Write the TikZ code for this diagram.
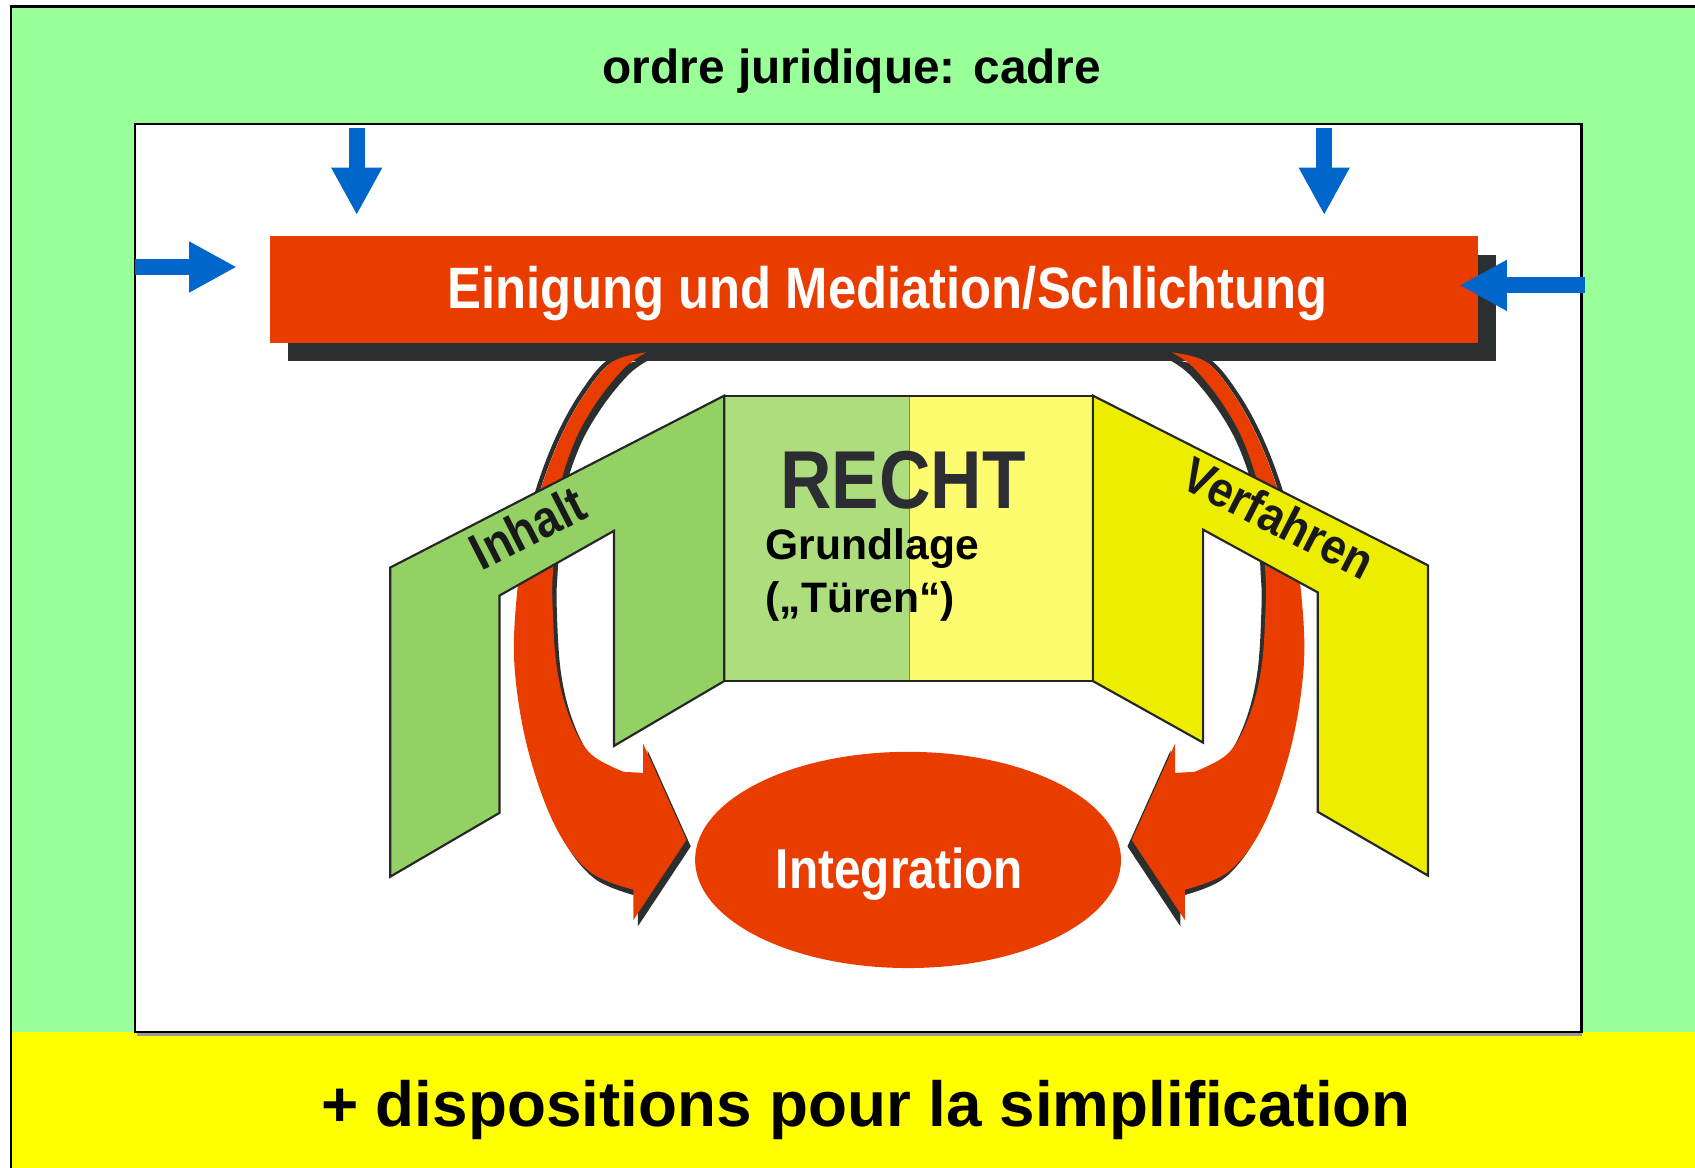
\documentclass[tikz,border=0pt]{standalone}
\usepackage{fontspec}
\usepackage{graphicx}
\setmainfont{Liberation Sans}
\usetikzlibrary{arrows.meta,shapes.geometric}
\definecolor{greenbg}{RGB}{153,255,153}
\definecolor{yellowband}{RGB}{255,255,0}
\definecolor{redc}{RGB}{233,61,0}
\definecolor{shadowc}{RGB}{43,47,47}
\definecolor{bluec}{RGB}{0,102,204}
\definecolor{doorgreen}{RGB}{148,209,100}
\definecolor{panelgreen}{RGB}{174,221,126}
\definecolor{dooryellow}{RGB}{237,237,0}
\definecolor{panelyellow}{RGB}{252,252,110}
\definecolor{rechtc}{RGB}{43,45,51}
\begin{document}
\begin{tikzpicture}[x=0.5pt,y=-0.5pt,
  txt/.style={inner sep=0pt, anchor=base},
  bluearrow/.style={draw=bluec, line width=7.5pt, -{Triangle[width=22pt,length=22pt]}},
  doorline/.style={draw=black!85, line width=1pt, line join=miter},
]
\useasboundingbox (0,0) rectangle (1568,1080);
\clip (0,0) rectangle (1568,1080);
% frame
\fill[greenbg] (10,6) rectangle (1600,1100);
\fill[yellowband] (10,955) rectangle (1600,1100);
\draw[line width=1pt] (1600,6) -- (10,6) -- (10,1100);
\draw[black!40, line width=1pt] (127,957) -- (1463,957);
\draw[line width=1pt, fill=white] (125,115) rectangle (1463,955);
\node[txt, font=\bfseries\fontsize{22.1pt}{26pt}\selectfont] (title) at (788,77) {ordre juridique: cadre};
\node[txt, font=\bfseries\fontsize{29.5pt}{34pt}\selectfont] (simpl) at (801,1042) {+ dispositions pour la simplification};
% bar
\fill[shadowc] (266,236) rectangle (1384,334);
\node (bar) [fill=redc, minimum width=558.5pt, minimum height=49.5pt, inner sep=0pt] at (808.5,267.5) {};
\node[txt, text=white, font=\bfseries\fontsize{27pt}{32pt}\selectfont] (bartx) at (821,285) {\scalebox{0.87}[1]{Einigung und Mediation/Schlichtung}};
% red curved arrows
\foreach \sx/\dx in {1/0,-1/1682}{
\begin{scope}[shift={(\dx,0)}, xscale=\sx]
  \fill[shadowc, shift={(4,6)}] plot[smooth, tension=0.6] coordinates {(598,326) (566,335) (540,366) (518,406) (500,453) (486,505) (478,552) (476,617) (488,692) (513,763) (545,806) (586,823)}
    -- (586,851) -- (635,777) -- (595,688) -- (595,715)
    -- plot[smooth, tension=0.6] coordinates {(577,714) (546,697) (527,664) (515,617) (511,555) (512,521) (516,460) (531,410) (552,372) (578,340) (598,326)} -- cycle;
  \draw[shadowc, line width=2pt, shift={(-2,-1)}] plot[smooth, tension=0.6] coordinates {(598,326) (566,335) (540,366) (518,406) (500,453) (486,505)};
  \fill[redc] plot[smooth, tension=0.6] coordinates {(598,326) (566,335) (540,366) (518,406) (500,453) (486,505) (478,552) (476,617) (488,692) (513,763) (545,806) (586,823)}
    -- (586,851) -- (635,777) -- (595,688) -- (595,715)
    -- plot[smooth, tension=0.6] coordinates {(577,714) (546,697) (527,664) (515,617) (511,555) (512,521) (516,460) (531,410) (552,372) (578,340) (598,326)} -- cycle;
\end{scope}}
% doors and panel
\fill[panelgreen] (670,366) rectangle (841,630);
\fill[panelyellow] (841,366) rectangle (1011,630);
\draw[black!50, line width=0.5pt] (841,366) -- (841,630);
\draw[doorline, line width=0.8pt] (670,366) rectangle (1011,630);
\draw[doorline, fill=doorgreen] (670,366) -- (361,525) -- (361,811) -- (462,752) -- (462,551) -- (568,491) -- (568,690) -- (670,630) -- cycle;
\draw[doorline, fill=dooryellow] (1011,366) -- (1321,523) -- (1321,810) -- (1219,751) -- (1219,548) -- (1113,490) -- (1113,687) -- (1011,630) -- cycle;
\node[txt, text=rechtc, font=\bfseries\fontsize{38pt}{44pt}\selectfont] (recht) at (835.5,470) {\scalebox{0.867}[1]{RECHT}};
\node[txt, anchor=base west, font=\bfseries\fontsize{19.7pt}{24pt}\selectfont] (grund) at (708,518) {Grundlage};
\node[txt, anchor=base west, font=\bfseries\fontsize{19.7pt}{24pt}\selectfont] (tueren) at (708,567) {(„Türen“)};
\node[inner sep=0pt, rotate=27, font=\bfseries\fontsize{24pt}{28pt}\selectfont, text=black!90] (inhalt) at (488,488) {\scalebox{0.88}[1]{Inhalt}};
\node[inner sep=0pt, rotate=-27, font=\bfseries\fontsize{23pt}{27pt}\selectfont, text=black!90] (verf) at (1183,479) {\scalebox{0.9}[1]{Verfahren}};
% ellipse
\node (integ) [ellipse, fill=redc, minimum width=197pt, minimum height=100pt, inner sep=0pt] at (840,795.5) {};
\node[txt, text=white, font=\bfseries\fontsize{26pt}{31pt}\selectfont] (intx) at (832,822) {\scalebox{0.85}[1]{Integration}};
% blue arrows
\coordinate (a1s) at (330,118); \coordinate (a1e) at (330,199);
\coordinate (a2s) at (1225,118); \coordinate (a2e) at (1225,199);
\coordinate (a3s) at (125,247); \coordinate (a3e) at (219,247);
\coordinate (a4s) at (1466,264); \coordinate (a4e) at (1350,264);
\draw[bluearrow] (a1s) -- (a1e);
\draw[bluearrow] (a2s) -- (a2e);
\draw[bluearrow] (a3s) -- (a3e);
\draw[bluearrow] (a4s) -- (a4e);
\end{tikzpicture}
\end{document}
